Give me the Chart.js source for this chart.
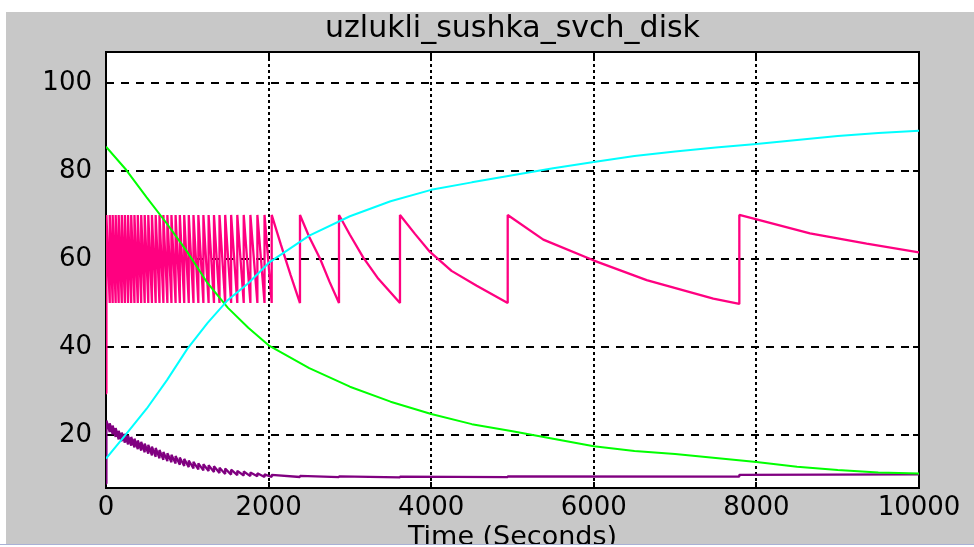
<!DOCTYPE html>
<html>
<head>
<meta charset="utf-8">
<script src="https://cdn.jsdelivr.net/npm/chart.js@4.4.1/dist/chart.umd.min.js"></script>
<style>
  html, body { margin: 0; padding: 0; background: #ffffff; }
  #wrap { width: 974px; height: 547px; position: relative; }
</style>
</head>
<body>
<div id="wrap"><canvas id="scope" width="974" height="547"></canvas></div>
<script>
// ---- scope settings ----
const chartTitle = 'uzlukli_sushka_svch_disk';
const xAxisTitle = 'Time (Seconds)';
const xTicks = [0, 2000, 4000, 6000, 8000, 10000];
const yTicks = [20, 40, 60, 80, 100];
const xRange = [0, 10000];
const yRange = [8, 107];

// ---- smooth signals, sampled in seconds ----
const curveTimes  = [0, 250, 500, 750, 1000, 1250, 1500, 1750, 2000, 2500, 3000, 3500, 4000,
                     4500, 5000, 5500, 6000, 6500, 7000, 7500, 8000, 8500, 9000, 9500, 10000];
const greenValues = [85.5, 80.2, 74.0, 68.0, 61.6, 54.5, 48.9, 44.4, 40.4, 35.2, 31.0, 27.6, 24.8,
                     22.5, 20.9, 19.2, 17.5, 16.4, 15.7, 14.8, 13.9, 12.8, 12.1, 11.5, 11.3];
const cyanValues  = [14.7, 20.3, 26.0, 32.5, 39.6, 45.5, 50.7, 54.5, 59.1, 65.3, 69.7, 73.1, 75.7,
                     77.4, 79.0, 80.6, 82.0, 83.4, 84.4, 85.3, 86.1, 87.0, 87.9, 88.6, 89.1];

// ---- on/off controlled temperature, [time, value] vertices ----
const pinkPoints = [
  [0, 29.5], [0, 63.5], [10, 70],
  [46, 50], [46, 70], [82, 50], [82, 70], [119, 50], [119, 70], [156, 50], [156, 70],
  [194, 50], [194, 70], [232, 50], [232, 70], [271, 50], [271, 70], [310, 50], [310, 70],
  [350, 50], [350, 70], [391, 50], [391, 70], [433, 50], [433, 70], [476, 50], [476, 70],
  [520, 50], [520, 70], [565, 50], [565, 70], [611, 50], [611, 70], [658, 50], [658, 70],
  [706, 50], [706, 70], [755, 50], [755, 70], [805, 50], [805, 70], [856, 50], [856, 70],
  [908, 50], [908, 70], [962, 50], [962, 70], [1018, 50], [1018, 70], [1076, 50], [1076, 70],
  [1136, 50], [1136, 70], [1198, 50], [1198, 70], [1262, 50], [1262, 70], [1328, 50], [1328, 70],
  [1396, 50], [1396, 70], [1466, 50], [1466, 70], [1539, 50], [1539, 70], [1615, 50], [1615, 70],
  [1694, 50], [1694, 70], [1776, 50], [1776, 70], [1862, 50], [1862, 70], [1950, 50], [1950, 70],
  [2038, 50], [2038, 70], [2150, 63.3], [2270, 56.4],
  [2386, 50], [2386, 70], [2500, 65.0], [2632, 60.1], [2750, 54.8],
  [2866, 50], [2866, 70], [3000, 65.5], [3165, 60.3], [3350, 55.5],
  [3616, 50], [3616, 70], [3800, 65.7], [3985, 61.6], [4250, 57.3], [4560, 53.9],
  [4941, 50], [4941, 70], [5379, 64.4], [5994, 59.7], [6650, 55.2], [7470, 51.0],
  [7790, 49.8], [7790, 70], [8003, 69.0], [8659, 65.8], [9356, 63.5], [10000, 61.5]
];

// ---- product-side signal, [time, value] vertices ----
const purplePoints = [
  [0, 9.0], [0, 23.3], [10, 23.3],
  [46, 20.7], [46, 22.7], [82, 20.2], [82, 22.2], [119, 19.6], [119, 21.6], [156, 19.0], [156, 21.0],
  [194, 18.6], [194, 20.6], [232, 18.3], [232, 20.3], [271, 17.9], [271, 19.9], [310, 17.6], [310, 19.6],
  [350, 17.2], [350, 19.2], [391, 16.8], [391, 18.8], [433, 16.5], [433, 18.5], [476, 16.1], [476, 18.1],
  [520, 15.8], [520, 17.8], [565, 15.4], [565, 17.4], [611, 15.1], [611, 17.1], [658, 14.75], [658, 16.65],
  [706, 14.4], [706, 16.2], [755, 14.1], [755, 15.9], [805, 13.85], [805, 15.55], [856, 13.55], [856, 15.25],
  [908, 13.3], [908, 14.9], [962, 13.0], [962, 14.6], [1018, 12.75], [1018, 14.25], [1076, 12.45], [1076, 13.95],
  [1136, 12.2], [1136, 13.6], [1198, 12.0], [1198, 13.4], [1262, 11.85], [1262, 13.15], [1328, 11.65], [1328, 12.95],
  [1396, 11.4], [1396, 12.6], [1466, 11.2], [1466, 12.4], [1539, 11.05], [1539, 12.15], [1615, 10.9], [1615, 11.9],
  [1694, 10.85], [1694, 11.75], [1776, 10.7], [1776, 11.5], [1862, 10.65], [1862, 11.35], [1950, 10.5], [1950, 11.1],
  [2038, 10.5], [2038, 11.0],
  [2386, 10.5], [2386, 10.75], [2866, 10.45], [2866, 10.65], [3616, 10.4], [3616, 10.6],
  [4941, 10.45], [4941, 10.65], [7790, 10.6], [7790, 11.0], [10000, 11.1]
];

const toXY = (times, values) => times.map((t, i) => ({ x: t, y: values[i] }));
const pairsToXY = pairs => pairs.map(p => ({ x: p[0], y: p[1] }));

const FONT = 'DejaVu Sans';

// scope window: grey panel, white axes box, black frame with inward ticks
const scopeFrame = {
  id: 'scopeFrame',
  beforeDraw(chart) {
    const { ctx, chartArea: a, width, height } = chart;
    ctx.save();
    ctx.fillStyle = '#ffffff';
    ctx.fillRect(0, 0, width, height);
    ctx.fillStyle = '#c8c8c8';
    ctx.fillRect(6, 12, width - 6, 532);
    ctx.fillStyle = '#ffffff';
    ctx.fillRect(a.left, a.top, a.right - a.left, a.bottom - a.top);
    ctx.restore();
  },
  beforeDatasetsDraw(chart) {
    const { ctx, chartArea: a, scales } = chart;
    ctx.save();
    ctx.strokeStyle = '#000000';
    ctx.lineWidth = 2;
    ctx.strokeRect(a.left, a.top, a.right - a.left, a.bottom - a.top);
    ctx.beginPath();
    xTicks.forEach(v => {
      const px = Math.round(scales.x.getPixelForValue(v));
      ctx.moveTo(px, a.bottom); ctx.lineTo(px, a.bottom - 6);
      ctx.moveTo(px, a.top); ctx.lineTo(px, a.top + 6);
    });
    yTicks.forEach(v => {
      const py = Math.round(scales.y.getPixelForValue(v));
      ctx.moveTo(a.left, py); ctx.lineTo(a.left + 6, py);
      ctx.moveTo(a.right, py); ctx.lineTo(a.right - 6, py);
    });
    ctx.stroke();
    ctx.restore();
  },
  afterDraw(chart) {
    const { ctx, width } = chart;
    ctx.save();
    ctx.fillStyle = '#a9b1d6';
    ctx.fillRect(0, 544, width, 1);
    ctx.fillStyle = '#ffffff';
    ctx.fillRect(0, 545, width, 2);
    ctx.restore();
  }
};

new Chart(document.getElementById('scope'), {
  type: 'line',
  data: {
    datasets: [
      { data: toXY(curveTimes, cyanValues), borderColor: '#00ffff', order: 0 },
      { data: toXY(curveTimes, greenValues), borderColor: '#00ff00', order: 1 },
      { data: pairsToXY(purplePoints), borderColor: '#800080', borderWidth: 2.3, order: 2 },
      { data: pairsToXY(pinkPoints), borderColor: '#ff0080', borderWidth: 2.3, order: 3 }
    ]
  },
  options: {
    responsive: false,
    animation: false,
    events: [],
    datasets: {
      line: { borderWidth: 2, pointRadius: 0, tension: 0, fill: false, borderJoinStyle: 'bevel' }
    },
    layout: { padding: { left: 0, right: 55, top: 0, bottom: 0 } },
    plugins: {
      legend: { display: false },
      tooltip: { enabled: false },
      title: {
        display: true,
        text: chartTitle,
        color: '#000000',
        fullSize: false,
        font: { family: FONT, size: 30, weight: 'normal', lineHeight: 1.15 },
        padding: { top: 12, bottom: 5.5 }
      }
    },
    scales: {
      x: {
        type: 'linear',
        min: xRange[0],
        max: xRange[1],
        afterBuildTicks: axis => { axis.ticks = xTicks.map(v => ({ value: v })); },
        afterFit: axis => { axis.height = 59; },
        grid: { color: '#000000', lineWidth: 2, drawTicks: false },
        border: { display: false, dash: [3, 3] },
        ticks: {
          color: '#000000',
          font: { family: FONT, size: 26 },
          padding: 5,
          maxRotation: 0,
          autoSkip: false,
          callback: v => String(v)
        },
        title: {
          display: true,
          text: xAxisTitle,
          color: '#000000',
          font: { family: FONT, size: 27, lineHeight: 1 },
          padding: { top: 0, bottom: -4 }
        }
      },
      y: {
        type: 'linear',
        min: yRange[0],
        max: yRange[1],
        afterBuildTicks: axis => { axis.ticks = yTicks.map(v => ({ value: v })); },
        afterFit: axis => { axis.width = 106; },
        grid: { color: '#000000', lineWidth: 2, drawTicks: false },
        border: { display: false, dash: [8, 7] },
        ticks: {
          color: '#000000',
          font: { family: FONT, size: 26 },
          padding: 14,
          callback: v => String(v)
        }
      }
    }
  },
  plugins: [scopeFrame]
});
</script>
</body>
</html>
